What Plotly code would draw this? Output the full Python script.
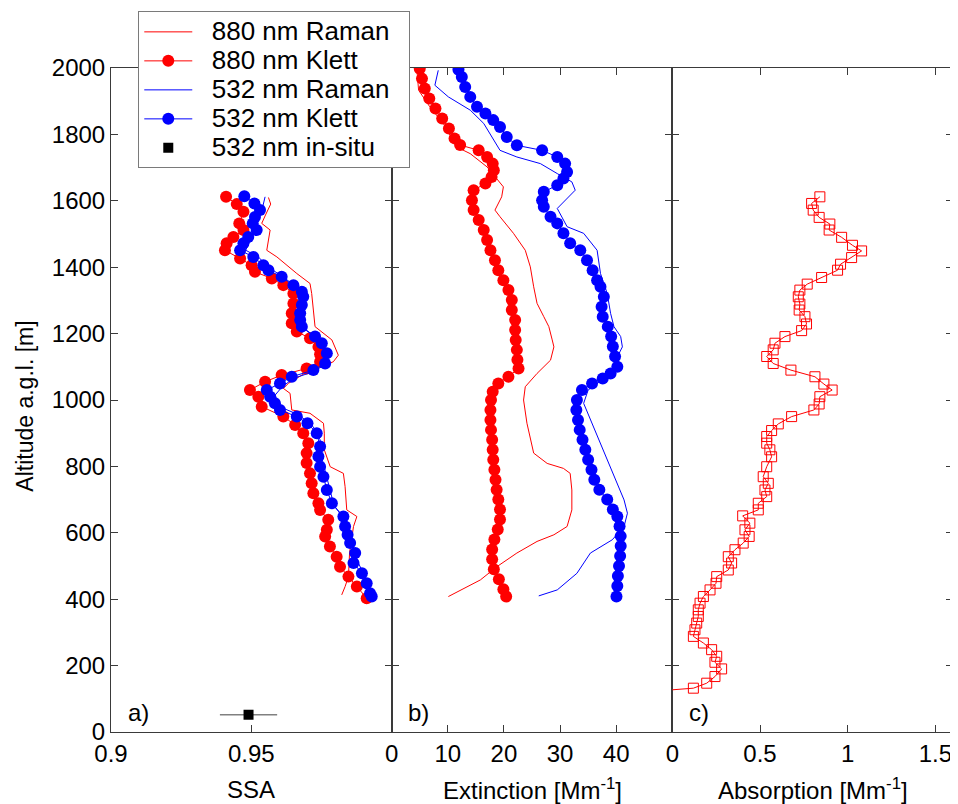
import plotly.graph_objects as go

# ---------------- Panel a: SSA ----------------
ssa_alt_k880 = [1612,1590,1567,1532,1512,1491,1472,1451,1426,1406,1386,1366,1346,1321,1291,1261,1231,1206,1186,1160,1138,1115,1095,1075,1055,1030,1010,980,950,925,900,870,840,810,779,749,719,689,669,639,609,589,559,528,498,468,438,403]
ssa_k880 = [0.9410,0.9448,0.9472,0.9457,0.9472,0.9436,0.9412,0.9406,0.9460,0.9501,0.9513,0.9573,0.9614,0.9650,0.9650,0.9644,0.9644,0.9662,0.9709,0.9739,0.9745,0.9745,0.9697,0.9608,0.9549,0.9495,0.9525,0.9537,0.9614,0.9656,0.9685,0.9703,0.9697,0.9697,0.9709,0.9715,0.9721,0.9739,0.9745,0.9774,0.9769,0.9763,0.9780,0.9804,0.9816,0.9846,0.9876,0.9911]

ssa_alt_k532 = [1614,1592,1572,1551,1532,1512,1491,1472,1451,1431,1406,1391,1371,1346,1326,1311,1286,1261,1241,1221,1191,1171,1141,1110,1090,1070,1050,1030,1010,990,970,950,930,900,860,830,799,769,729,689,649,619,594,569,539,509,478,448,418,408]
ssa_k532 = [0.9475,0.9511,0.9531,0.9513,0.9505,0.9519,0.9489,0.9472,0.9460,0.9507,0.9543,0.9561,0.9608,0.9650,0.9680,0.9685,0.9680,0.9674,0.9674,0.9680,0.9727,0.9751,0.9769,0.9763,0.9721,0.9644,0.9602,0.9555,0.9567,0.9584,0.9602,0.9662,0.9700,0.9733,0.9745,0.9739,0.9745,0.9757,0.9769,0.9787,0.9828,0.9834,0.9843,0.9852,0.9870,0.9864,0.9894,0.9911,0.9923,0.9929]

ssa_alt_r880 = [1610,1590,1560,1532,1512,1451,1431,1381,1351,1321,1271,1221,1181,1135,1115,1090,1050,1035,1020,970,960,930,900,850,799,779,739,669,649,619,540,468,438,413]
ssa_r880 = [0.9561,0.9569,0.9552,0.9537,0.9567,0.9555,0.9591,0.9662,0.9709,0.9715,0.9721,0.9727,0.9787,0.9810,0.9792,0.9709,0.9632,0.9614,0.9638,0.9644,0.9709,0.9757,0.9760,0.9760,0.9781,0.9828,0.9834,0.9840,0.9876,0.9864,0.9850,0.9846,0.9834,0.9822]

ssa_alt_r532 = [1612,1580,1550,1510,1470,1451,1431,1400,1370,1340,1300,1250,1210,1180,1140,1110,1085,1065,1040,1015,980,955,920,880,830,780,730,680,640,600,560,520,480,440,410]
ssa_r532 = [0.9549,0.9540,0.9527,0.9510,0.9490,0.9480,0.9525,0.9560,0.9615,0.9660,0.9690,0.9685,0.9695,0.9740,0.9775,0.9770,0.9720,0.9650,0.9610,0.9585,0.9600,0.9670,0.9720,0.9745,0.9750,0.9765,0.9778,0.9795,0.9835,0.9845,0.9860,0.9875,0.9898,0.9915,0.9930]

insitu_alt = [52]
insitu_ssa = [0.949]
insitu_err = [0.0102]

# ---------------- Panel b: Extinction ----------------
ext_alt_k880 = [1998,1968,1938,1908,1878,1848,1818,1788,1768,1752,1732,1712,1692,1672,1652,1632,1602,1572,1542,1512,1482,1451,1421,1391,1361,1331,1301,1271,1241,1211,1181,1151,1121,1095,1070,1050,1025,1000,970,940,910,880,850,820,790,760,730,700,670,640,610,580,550,520,490,460,430,408]
ext_k880 = [5.0,5.4,5.9,6.7,7.8,9.0,10.2,11.2,12.2,15.5,17.0,18.0,18.2,17.8,16.7,14.6,14.3,14.6,15.5,16.4,17.0,17.6,18.4,19.0,19.9,20.8,21.4,21.4,22.0,22.0,22.1,22.3,22.4,22.6,20.8,19.0,18.0,17.7,17.6,17.6,17.7,17.9,18.0,18.1,18.3,18.5,18.7,19.0,19.3,19.3,18.9,18.3,17.9,17.9,18.2,19.1,19.9,20.4]

ext_alt_k532 = [1995,1973,1943,1913,1883,1863,1843,1822,1792,1767,1752,1732,1712,1687,1667,1647,1627,1602,1582,1552,1532,1502,1472,1451,1421,1391,1361,1341,1311,1281,1251,1221,1191,1161,1131,1100,1080,1065,1050,1030,1000,970,940,910,880,850,820,790,760,730,700,670,649,620,590,560,530,500,470,440,408]
ext_k532 = [11.9,12.5,13.1,14.0,15.2,16.7,18.1,19.3,20.5,22.3,26.8,29.5,30.9,31.25,30.6,29.5,27.1,26.8,27.1,28.3,29.5,30.6,31.8,33.6,34.8,35.8,36.6,37.2,37.8,37.4,37.6,38.5,39.1,39.4,39.8,40.2,39.0,37.6,35.7,33.9,33.0,32.9,33.2,33.5,34.0,34.5,35.0,35.6,36.1,37.0,38.4,39.4,40.2,40.6,40.8,40.8,40.7,40.5,40.3,40.2,40.05]

ext_alt_r880 = [1993,1933,1883,1833,1762,1742,1702,1662,1642,1612,1572,1552,1502,1451,1401,1341,1291,1251,1221,1181,1160,1120,1080,1040,1000,930,840,809,794,779,729,669,619,594,574,539,498,458,408]
ext_r880 = [4.5,4.8,6.8,9.2,11.6,14.0,17.0,19.0,19.9,19.6,18.4,19.3,21.7,23.8,24.7,25.3,25.9,27.1,28.0,28.6,28.9,28.3,25.9,23.8,23.5,24.1,25.3,27.7,30.6,31.8,32.1,32.1,31.25,28.9,25.9,22.3,18.75,15.8,10.1]

ext_alt_r532 = [1993,1948,1913,1873,1833,1792,1752,1732,1712,1682,1657,1632,1577,1522,1502,1451,1381,1321,1261,1221,1191,1160,1130,1090,1060,1030,990,699,659,619,579,539,478,428,410]
ext_r532 = [8.3,7.7,10.1,14.0,16.4,17.9,19.3,22.3,26.5,29.5,32.1,32.7,29.5,31.25,34.2,36.6,37.2,38.4,39.0,39.6,40.8,41.1,40.2,39.8,37.5,35.0,34.2,41.4,42.0,41.4,39.3,35.4,33.0,29.5,26.2]

# ---------------- Panel c: Absorption ----------------
abs_alt = [1612,1592,1572,1550,1530,1512,1490,1466,1449,1429,1409,1391,1369,1349,1331,1311,1289,1271,1251,1229,1209,1191,1171,1151,1131,1110,1090,1070,1048,1030,1010,988,970,950,928,908,890,870,850,829,799,769,749,729,709,689,669,651,629,609,589,569,549,528,509,488,468,448,428,408,388,368,348,328,308,288,268,248,228,210,190,167,147,132,125]
abs_val = [0.841,0.794,0.803,0.837,0.898,0.894,0.965,1.027,1.079,1.022,0.959,0.942,0.851,0.769,0.727,0.718,0.727,0.723,0.756,0.765,0.737,0.642,0.585,0.575,0.538,0.575,0.676,0.813,0.864,0.911,0.841,0.837,0.807,0.680,0.604,0.566,0.538,0.538,0.556,0.566,0.538,0.518,0.547,0.528,0.538,0.49,0.49,0.401,0.442,0.414,0.438,0.404,0.357,0.319,0.338,0.319,0.253,0.249,0.215,0.177,0.158,0.148,0.148,0.139,0.129,0.12,0.177,0.224,0.253,0.243,0.281,0.243,0.196,0.12,-0.05]

alt_ticks = list(range(0, 2001, 200))
legend_names = ['880 nm Raman', '880 nm Klett', '532 nm Raman', '532 nm Klett', '532 nm in-situ']

RED = '#ff0000'
BLUE = '#0000ff'
FONT = 'Liberation Sans, Arial, Helvetica, sans-serif'


def lname(s):
    return '<span style="font-size:26px">&nbsp;&nbsp;' + s + '&nbsp;&nbsp;</span>'


fig = go.Figure()

# Legend order traces (panel a)
fig.add_trace(go.Scatter(x=ssa_r880, y=ssa_alt_r880, mode='lines', name=lname(legend_names[0]),
                         line=dict(color=RED, width=1), xaxis='x', yaxis='y'))
fig.add_trace(go.Scatter(x=ssa_k880, y=ssa_alt_k880, mode='lines+markers', name=lname(legend_names[1]),
                         line=dict(color=RED, width=1), marker=dict(color=RED, size=12),
                         xaxis='x', yaxis='y'))
fig.add_trace(go.Scatter(x=ssa_r532, y=ssa_alt_r532, mode='lines', name=lname(legend_names[2]),
                         line=dict(color=BLUE, width=1), xaxis='x', yaxis='y'))
fig.add_trace(go.Scatter(x=ssa_k532, y=ssa_alt_k532, mode='lines+markers', name=lname(legend_names[3]),
                         line=dict(color=BLUE, width=1), marker=dict(color=BLUE, size=12),
                         xaxis='x', yaxis='y'))
fig.add_trace(go.Scatter(x=insitu_ssa, y=insitu_alt, mode='markers', name=lname(legend_names[4]),
                         marker=dict(color='black', size=10, symbol='square'),
                         error_x=dict(type='data', array=insitu_err, color='#808080', thickness=1.5, width=0),
                         xaxis='x', yaxis='y'))

# Panel b
fig.add_trace(go.Scatter(x=ext_r880, y=ext_alt_r880, mode='lines', showlegend=False,
                         line=dict(color=RED, width=1), xaxis='x2', yaxis='y2'))
fig.add_trace(go.Scatter(x=ext_k880, y=ext_alt_k880, mode='lines+markers', showlegend=False,
                         line=dict(color=RED, width=1), marker=dict(color=RED, size=12),
                         xaxis='x2', yaxis='y2'))
fig.add_trace(go.Scatter(x=ext_r532, y=ext_alt_r532, mode='lines', showlegend=False,
                         line=dict(color=BLUE, width=1), xaxis='x2', yaxis='y2'))
fig.add_trace(go.Scatter(x=ext_k532, y=ext_alt_k532, mode='lines+markers', showlegend=False,
                         line=dict(color=BLUE, width=1), marker=dict(color=BLUE, size=12),
                         xaxis='x2', yaxis='y2'))

# Panel c
fig.add_trace(go.Scatter(x=abs_val, y=abs_alt, mode='lines+markers', showlegend=False,
                         line=dict(color=RED, width=1),
                         marker=dict(color=RED, size=10, symbol='square-open', line=dict(width=1)),
                         xaxis='x3', yaxis='y3'))

axis_common = dict(showline=True, linecolor='#3a3a3a', linewidth=1, mirror='ticks',
                   ticks='inside', ticklen=7, tickcolor='#3a3a3a', showgrid=False,
                   zeroline=False, tickfont=dict(family=FONT, size=24, color='black'))

# The page body adds an 8 px offset, so the figure is 8 px smaller and margins shifted.
fig.update_layout(
    width=950, height=796,
    margin=dict(l=103, r=5, t=60, b=72, autoexpand=False),
    paper_bgcolor='white', plot_bgcolor='white',
    font=dict(family=FONT, size=24, color='black'),
    xaxis=dict(domain=[0, 1/3], range=[0.9, 1.0], tickvals=[0.9, 0.95, 1.0],
               ticktext=['0.9', '0.95', ''], anchor='y', **axis_common),
    xaxis2=dict(domain=[1/3, 2/3], range=[0, 50], tickvals=[0, 10, 20, 30, 40, 50],
                ticktext=['0', '10', '20', '30', '40', ''], anchor='y2', **axis_common),
    xaxis3=dict(domain=[2/3, 1], range=[0, 1.6], tickvals=[0, 0.5, 1, 1.5],
                ticktext=['0', '0.5', '1', '1.5'], anchor='y3', **axis_common),
    yaxis=dict(range=[0, 2000], tickvals=alt_ticks, anchor='x', **axis_common),
    yaxis2=dict(range=[0, 2000], tickvals=alt_ticks, anchor='x2', showticklabels=False,
                matches='y', **axis_common),
    yaxis3=dict(range=[0, 2000], tickvals=alt_ticks, anchor='x3', showticklabels=False,
                matches='y', **axis_common),
    legend=dict(x=0.0324, y=1.0853, xanchor='left', yanchor='top',
                bgcolor='white', bordercolor='#7a7a7a', borderwidth=1,
                font=dict(family=FONT, size=20, color='black'),
                itemwidth=48, tracegroupgap=0),
    showlegend=True,
)

ann = []
for xr, lbl, xx in [('x domain', 'a)', 0.053), ('x2 domain', 'b)', 0.051), ('x3 domain', 'c)', 0.053)]:
    ann.append(dict(xref=xr, yref='y domain', x=xx, y=0.029, text=lbl, showarrow=False,
                    xanchor='left', yanchor='middle', font=dict(family=FONT, size=24, color='black')))
for xr, txt in [('x domain', 'SSA'), ('x2 domain', 'Extinction [Mm<sup>-1</sup>]'),
                ('x3 domain', 'Absorption [Mm<sup>-1</sup>]')]:
    ann.append(dict(xref=xr, yref='paper', x=0.5, y=-0.086, text=txt, showarrow=False,
                    xanchor='center', yanchor='middle', font=dict(family=FONT, size=24, color='black')))
ann.append(dict(xref='paper', yref='paper', x=-0.1021, y=0.49, text='Altitude a.g.l. [m]',
                textangle=-90, showarrow=False, xanchor='center', yanchor='middle',
                font=dict(family=FONT, size=23, color='black')))
fig.update_layout(annotations=ann)

fig.write_html("out.html")
